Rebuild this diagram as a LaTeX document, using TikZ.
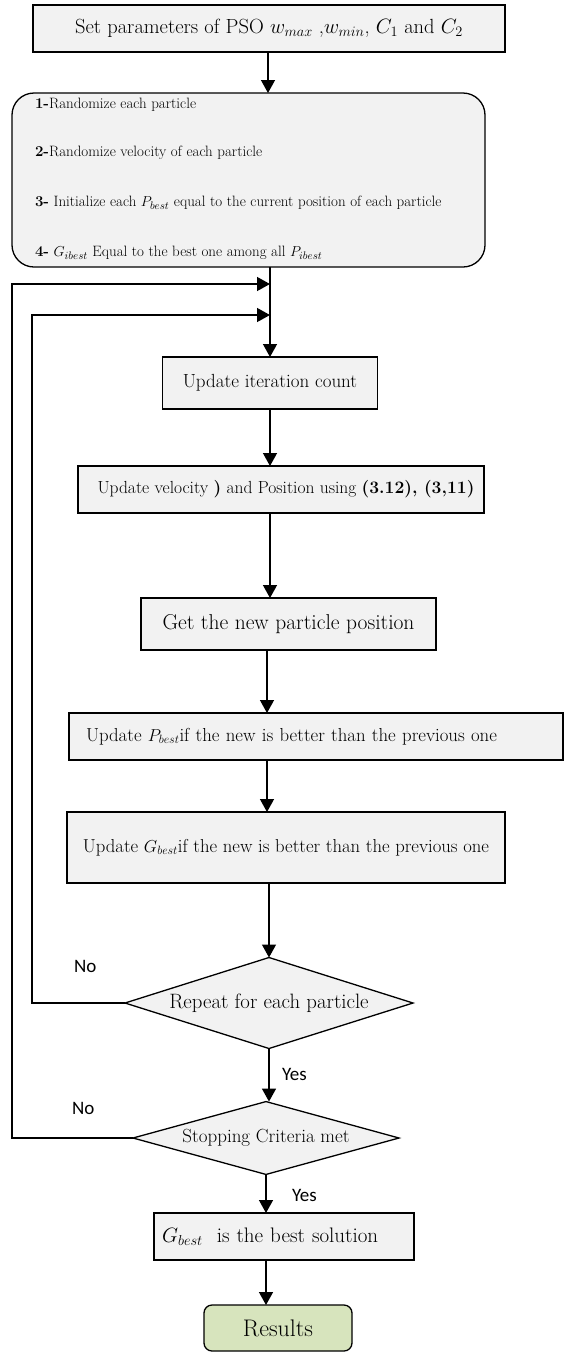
\documentclass[tikz,border=0pt]{standalone}
\usepackage{fontspec}
\newfontfamily\labfont{Carlito}
\usetikzlibrary{arrows.meta,shapes.geometric}
\definecolor{boxgray}{HTML}{F2F2F2}
\definecolor{resgreen}{HTML}{D7E4BD}
\tikzset{
  every node/.style={inner sep=0pt, outer sep=0pt},
  box/.style={draw=black, fill=boxgray, line width=1.3pt, rectangle},
  dec/.style={draw=black, fill=boxgray, line width=1.3pt, diamond, aspect=3},
  arr/.style={line width=1.4pt, -{Triangle[width=14pt,length=13pt]}},
  lab/.style={font=\labfont\fontsize{19}{22}\selectfont},
  fs/.style={font=\fontsize{#1}{#1}\selectfont}
}
\begin{document}
\begin{tikzpicture}[x=1pt,y=-1pt]
\useasboundingbox (0,0) rectangle (564,1353);
% boxes
\node[box, minimum width=472pt, minimum height=47pt, fs=20.5] (set) at (269,28.5)
  {Set parameters of PSO $w_{max}$ ,$w_{min}$, $C_1$ and $C_2$};
\node[box, rounded corners=22pt, minimum width=473pt, minimum height=174pt] (init) at (248.5,180) {};
\node[anchor=west, fs=15] (t1) at (35,105) {\textbf{1-}Randomize each particle};
\node[anchor=west, fs=15] (t2) at (35,153) {\textbf{2-}Randomize velocity of each particle};
\node[anchor=west, fs=15] (t3) at (35,203) {\textbf{3-} Initialize each $P_{best}$ equal to the current position of each particle};
\node[anchor=west, fs=15] (t4) at (35,253) {\textbf{4-} $G_{ibest}$ Equal to the best one among all $P_{ibest}$};
\node[box, minimum width=215pt, minimum height=52pt, fs=19] (iter) at (270,383) {Update iteration count};
\node[box, minimum width=406pt, minimum height=47pt, fs=17.5] (vel) at (281,489.5)
  {\hspace{10pt}Update velocity \textbf{)} and Position using \textbf{(3.12), (3,11)}};
\node[box, minimum width=295pt, minimum height=52pt, fs=21.5] (get) at (288.5,624) {Get the new particle position};
\node[box, minimum width=494pt, minimum height=47pt, fs=18.8, anchor=west, inner xsep=17pt, text width=460pt, align=left] (pb) at (69,736.5)
  {Update $P_{best}$if the new is better than the previous one};
\node[box, minimum width=438pt, minimum height=71pt, fs=18.7] (gb) at (286,847.5)
  {Update $G_{best}$if the new is better than the previous one};
\node[dec, minimum width=288pt, minimum height=91pt, fs=20.8] (rep) at (269,1003) {Repeat for each particle};
\node[dec, minimum width=266pt, minimum height=70pt, fs=19] (stop) at (266,1138) {Stopping Criteria met};
\node[box, minimum width=260pt, minimum height=47pt, fs=21, inner xsep=8pt, text width=244pt, align=left] (fin) at (284,1236.5)
  {$G_{best}$\ \ is the best solution};
\node[box, fill=resgreen, rounded corners=8pt, minimum width=148pt, minimum height=46pt, fs=24] (res) at (278,1328) {Results};
% labels
\node[lab, anchor=west] (no1) at (74,966) {No};
\node[lab, anchor=west] (no2) at (72,1108) {No};
\node[lab, anchor=west] (yes1) at (282,1074) {Yes};
\node[lab, anchor=west] (yes2) at (292,1195) {Yes};
% loop coordinates
\coordinate (c1) at (32,315);
\coordinate (c2) at (12,284);
% connectors
\draw[arr] (set.south -| 268,0) -- (268,0 |- init.north);
\draw[arr] (init.south -| iter.north) -- (iter.north);
\draw[arr] (iter.south) -- (iter.south |- vel.north);
\draw[arr] (iter.south |- vel.south) -- (iter.south |- get.north);
\draw[arr] (267,0 |- get.south) -- (267,0 |- pb.north);
\draw[arr] (267,0 |- pb.south) -- (267,0 |- gb.north);
\draw[arr] (rep.north |- gb.south) -- (rep.north);
\draw[arr] (rep.south) -- (rep.south |- stop.north);
\draw[arr] (stop.south) -- (stop.south |- fin.north);
\draw[arr] (stop.south |- fin.south) -- (res.north -| stop.south);
\draw[arr] (rep.west) -| (c1) -- (c1 -| iter.north);
\draw[arr] (stop.west) -| (c2) -- (c2 -| iter.north);
\end{tikzpicture}
\end{document}
